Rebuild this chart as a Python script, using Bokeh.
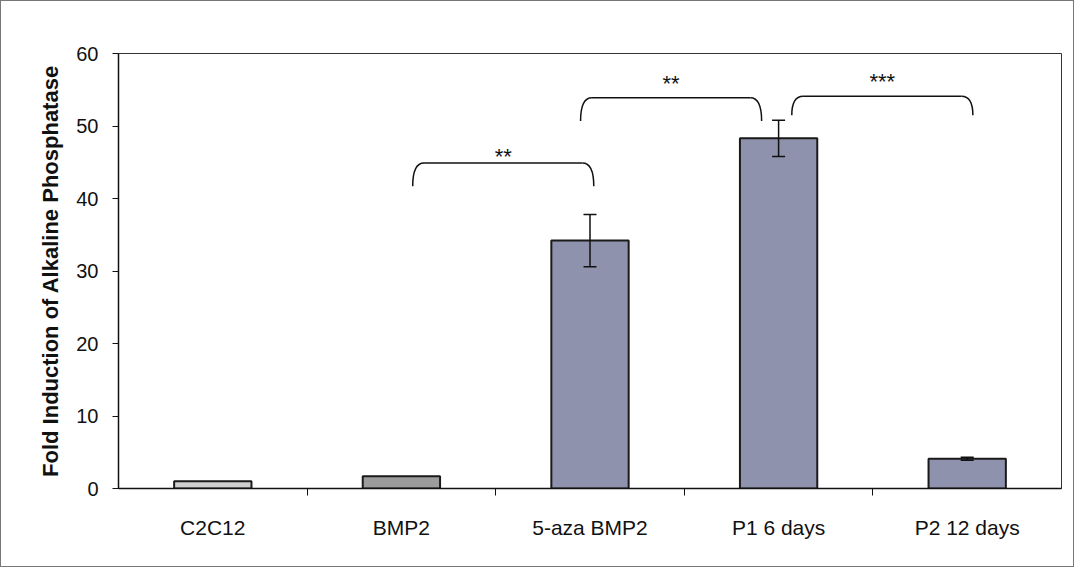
from bokeh.plotting import figure
from bokeh.models import Range1d, FixedTicker, ColumnDataSource, Whisker, TeeHead
from bokeh.core.properties import value
from bokeh.embed import file_html
from bokeh.resources import INLINE

categories = ["C2C12", "BMP2", "5-aza BMP2", "P1 6 days", "P2 12 days"]
fold_induction = [1.0, 1.7, 34.2, 48.3, 4.1]
error = [0.0, 0.0, 3.6, 2.5, 0.2]
bar_colors = ["#cfcfcf", "#9c9c9c", "#8f92ad", "#8f92ad", "#8f92ad"]
y_ticks = [0, 10, 20, 30, 40, 50, 60]

# significance brackets (x in category units, y in data units)
bracket_left = [1.56, 2.45, 3.57]
bracket_right = [2.52, 3.41, 4.53]
bracket_top = [44.9, 53.9, 54.1]
bracket_bottom = [41.7, 50.7, 51.5]
bracket_labels = ["**", "**", "***"]
label_y = [44.9, 55.0, 55.2]

FONT = "Liberation Sans"
n = len(categories)
centers = [i + 0.5 for i in range(n)]

p = figure(width=1074, height=567, output_backend="svg", toolbar_location=None,
           x_range=Range1d(0, n), y_range=Range1d(0, 60),
           min_border_left=117, min_border_right=14, min_border_top=52, min_border_bottom=80)
p.styles = {"border": "1px solid #777"}
p.grid.visible = False
p.outline_line_color = "#333333"
p.outline_line_width = 1
p.background_fill_color = "white"
p.border_fill_color = "white"

src = ColumnDataSource(dict(x=centers, top=fold_induction, color=bar_colors))
p.vbar(x="x", top="top", width=0.41, bottom=0, fill_color="color",
       line_color="#1a1a1a", line_width=2, source=src)

err_idx = [i for i in range(n) if error[i] > 0]
esrc = ColumnDataSource(dict(x=[centers[i] for i in err_idx],
                             upper=[fold_induction[i] + error[i] for i in err_idx],
                             lower=[fold_induction[i] - error[i] for i in err_idx]))
wh = Whisker(base="x", upper="upper", lower="lower", source=esrc, level="overlay",
             line_color="#111111", line_width=1.5,
             upper_head=TeeHead(size=13, line_color="#111111", line_width=1.5),
             lower_head=TeeHead(size=13, line_color="#111111", line_width=1.5))
p.add_layout(wh)

# brackets
dx = 0.06
for x0, x1, yt, yb in zip(bracket_left, bracket_right, bracket_top, bracket_bottom):
    p.segment(x0=x0 + dx, y0=yt, x1=x1 - dx, y1=yt, line_color="#111111", line_width=1.5)
    p.quadratic(x0=x0, y0=yb, x1=x0 + dx, y1=yt, cx=x0, cy=yt, line_color="#111111", line_width=1.5)
    p.quadratic(x0=x1, y0=yb, x1=x1 - dx, y1=yt, cx=x1, cy=yt, line_color="#111111", line_width=1.5)

p.text(x=[(a + b) / 2 for a, b in zip(bracket_left, bracket_right)], y=label_y,
       text=bracket_labels, text_font=value(FONT), text_font_size="22px",
       text_align="center", text_baseline="bottom", text_color="#111111", y_offset=6)

# x axis: labels centered, ticks at category boundaries
xa = p.xaxis[0]
xa.ticker = FixedTicker(ticks=centers, minor_ticks=list(range(1, n)))
xa.major_label_overrides = {c: lab for c, lab in zip(centers, categories)}
xa.major_tick_out = 0
xa.major_tick_in = 0
xa.minor_tick_out = 7
xa.minor_tick_in = 0
xa.minor_tick_line_color = "#111111"
xa.axis_line_color = "#111111"
xa.axis_line_width = 1.5
xa.major_label_text_font = FONT
xa.major_label_text_font_size = "21px"
xa.major_label_text_color = "#111111"
xa.major_label_standoff = 20

ya = p.yaxis[0]
ya.ticker = FixedTicker(ticks=y_ticks, minor_ticks=[])
ya.major_tick_out = 6
ya.major_tick_in = 0
ya.major_tick_line_color = "#111111"
ya.axis_line_color = "#111111"
ya.axis_line_width = 1.5
ya.major_label_text_font = FONT
ya.major_label_text_font_size = "20px"
ya.major_label_text_color = "#111111"
ya.major_label_standoff = 14
ya.axis_label = "Fold Induction of Alkaline Phosphatase"
ya.axis_label_text_font = FONT
ya.axis_label_text_font_size = "22px"
ya.axis_label_text_font_style = "bold"
ya.axis_label_text_color = "#111111"
ya.axis_label_standoff = 10

open("out.html", "w").write(file_html(p, INLINE))
